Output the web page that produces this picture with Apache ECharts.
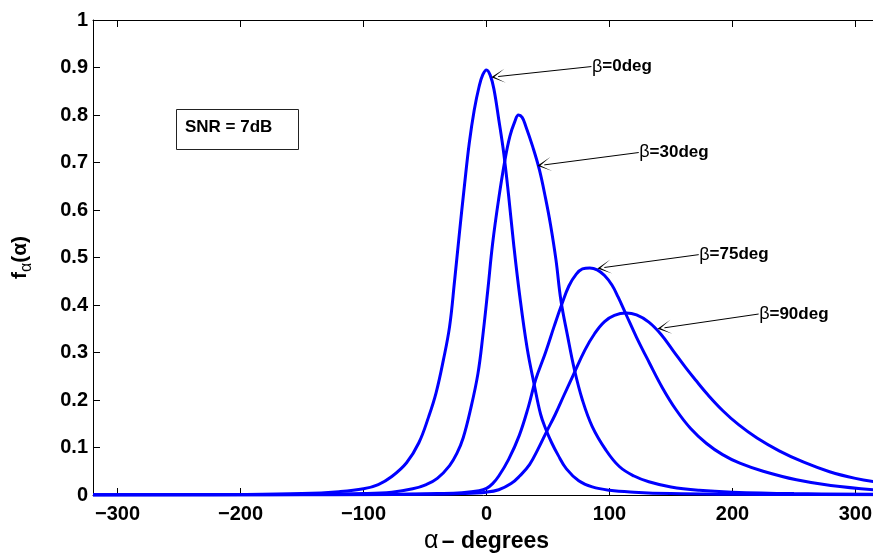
<!DOCTYPE html>
<html><head><meta charset="utf-8">
<script src="https://cdn.jsdelivr.net/npm/echarts@6/dist/echarts.min.js"></script>
<style>html,body{margin:0;padding:0;background:#fff}#c{width:873px;height:554px}</style>
</head><body><div id="c"></div>
<script>
// ---- data ----
const xTicks = [-300, -200, -100, 0, 100, 200, 300];
const yTicksMax = 1;

const alpha0 = [-320,-250,-200,-150,-120,-100,-88,-77,-65,-55,-47,-41,-35,-30,-26,-22,-18,-14,-10,-6,-3,0,3,6,10,14,18,22,27,33,39,44,48,53,58,65,75,86,100,120,150,200,250,320];
const f0     = [0.0003,0.0006,0.001,0.003,0.007,0.013,0.022,0.039,0.068,0.11,0.165,0.215,0.285,0.355,0.45,0.552,0.65,0.741,0.81,0.86,0.885,0.895,0.884,0.855,0.79,0.72,0.63,0.53,0.42,0.31,0.23,0.17,0.14,0.11,0.085,0.055,0.03,0.017,0.01,0.006,0.003,0.0015,0.001,0.0005];

const alpha30 = [-320,-200,-150,-100,-77,-60,-49,-40,-30,-24,-19,-13,-7,-3,1,5,10,15,19,23,26,29,32,37.5,43,48,52,56.5,60.5,66,71.5,78,86,97,108,120,132,150,173,200,250,320];
const f30     = [0.0002,0.0005,0.001,0.003,0.006,0.013,0.022,0.035,0.062,0.088,0.12,0.18,0.255,0.335,0.43,0.53,0.625,0.705,0.755,0.786,0.80,0.795,0.776,0.734,0.685,0.625,0.57,0.495,0.41,0.334,0.264,0.20,0.144,0.095,0.06,0.04,0.028,0.017,0.01,0.006,0.003,0.0015];

const alpha75 = [-320,-150,-100,-60,-40,-20,-6,0,5,10,18,26.6,34,40,48,55,61,67,73,78,84,90,96,102,107,113.5,122,132.5,143,154,166,178.7,192,206,225,252,280,320];
const f75     = [0.0001,0.0003,0.0008,0.002,0.003,0.005,0.009,0.014,0.024,0.04,0.075,0.125,0.185,0.243,0.30,0.355,0.40,0.44,0.465,0.476,0.478,0.474,0.462,0.442,0.417,0.38,0.332,0.278,0.226,0.18,0.14,0.109,0.085,0.067,0.05,0.032,0.02,0.01];

const alpha90 = [-320,-100,-50,-20,0,10,20,27,35,42,49,56,63,71,80,88,96,104,113.5,122,132,142,152,162,170,180,192,205,220,238,258,279,300,320];
const f90     = [0.0001,0.0005,0.0015,0.003,0.006,0.011,0.024,0.04,0.064,0.097,0.134,0.17,0.21,0.255,0.305,0.34,0.365,0.378,0.383,0.379,0.364,0.338,0.303,0.268,0.242,0.211,0.178,0.148,0.12,0.093,0.069,0.049,0.035,0.026];

const seriesNames = ['β=0deg', 'β=30deg', 'β=75deg', 'β=90deg'];
const labelText = ['=0deg', '=30deg', '=75deg', '=90deg'];
// annotation anchors in data space
const arrowTail = [[85.3, 0.902], [123.8, 0.721], [172.6, 0.506], [221.3, 0.381]];
const arrowTip  = [[9.5, 0.881], [47, 0.695], [95.8, 0.479], [144.7, 0.352]];

// ---- chart ----
const FONT = '"Liberation Sans", Arial, Helvetica, sans-serif';
const zip = (a, b) => a.map((v, i) => [v, b[i]]);
const curves = [zip(alpha0, f0), zip(alpha30, f30), zip(alpha75, f75), zip(alpha90, f90)];
const arrowPath = 'path://M50,0 L95,100 L50,22 L5,100 Z';

const series = curves.map((d, i) => ({
  name: seriesNames[i],
  type: 'line',
  data: d,
  smooth: 0.4,
  showSymbol: false,
  symbol: 'none',
  lineStyle: { color: '#0000ff', width: 3 },
  itemStyle: { color: '#0000ff' },
  z: 3,
  markLine: {
    silent: true,
    symbol: ['none', arrowPath],
    symbolSize: 14,
    label: { show: false },
    lineStyle: { color: '#000', width: 1, type: 'solid', opacity: 1 },
    itemStyle: { color: '#000' },
    emphasis: { disabled: true },
    animation: false,
    data: [[{ coord: arrowTail[i] }, { coord: arrowTip[i] }]]
  },
  markPoint: {
    silent: true,
    symbol: 'rect',
    symbolSize: 1,
    itemStyle: { color: 'rgba(0,0,0,0)' },
    animation: false,
    label: {
      show: true,
      position: 'right',
      distance: 0,
      formatter: '{g|β}{b|' + labelText[i] + '}',
      rich: {
        g: { fontFamily: FONT, fontSize: 18, fontWeight: 'normal', color: '#000' },
        b: { fontFamily: FONT, fontSize: 17, fontWeight: 'bold', color: '#000' }
      }
    },
    data: [{ coord: arrowTail[i] }]
  }
}));

const tickCommon = { show: true, inside: true, length: 7, lineStyle: { color: '#000', width: 1 } };
const lineCommon = { show: true, onZero: false, lineStyle: { color: '#000', width: 1 } };

const option = {
  animation: false,
  backgroundColor: '#fff',
  grid: { left: 93, top: 20, right: -7, bottom: 59, containLabel: false, outerBoundsMode: 'none' },
  xAxis: [{
    type: 'value', min: -320, max: 320, position: 'bottom',
    axisLine: lineCommon,
    axisTick: Object.assign({ customValues: xTicks }, tickCommon),
    axisLabel: {
      customValues: xTicks, margin: 9,
      fontFamily: FONT, fontSize: 20, fontWeight: 'bold', color: '#000',
      formatter: v => (v < 0 ? '\u2212' + (-v) : String(v))
    },
    splitLine: { show: false },
    name: '{a|α} {b|– degrees}',
    nameLocation: 'middle', nameGap: 31,
    nameTextStyle: {
      rich: {
        a: { fontFamily: FONT, fontSize: 25, fontWeight: 'normal', color: '#000' },
        b: { fontFamily: FONT, fontSize: 23, fontWeight: 'bold', color: '#000' }
      }
    }
  }, {
    type: 'value', min: -320, max: 320, position: 'top',
    axisLine: lineCommon,
    axisTick: Object.assign({ customValues: xTicks }, tickCommon),
    axisLabel: { show: false },
    splitLine: { show: false }
  }],
  yAxis: [{
    type: 'value', min: 0, max: yTicksMax, interval: 0.1, position: 'left',
    axisLine: lineCommon,
    axisTick: tickCommon,
    axisLabel: {
      margin: 5, fontFamily: FONT, fontSize: 20, fontWeight: 'bold', color: '#000',
      formatter: v => String(+v.toFixed(1))
    },
    splitLine: { show: false },
    name: '{f|f}{s|α}{f|(α)}',
    nameLocation: 'middle', nameGap: 58, nameRotate: 90,
    nameTextStyle: {
      rich: {
        f: { fontFamily: FONT, fontSize: 21, fontWeight: 'bold', color: '#000', lineHeight: 30 },
        s: { fontFamily: FONT, fontSize: 16, fontWeight: 'normal', color: '#000', lineHeight: 14, verticalAlign: 'bottom' }
      }
    }
  }, {
    type: 'value', min: 0, max: yTicksMax, interval: 0.1, position: 'right',
    axisLine: lineCommon,
    axisTick: tickCommon,
    axisLabel: { show: false },
    splitLine: { show: false }
  }],
  graphic: [
    { type: 'rect', left: 176, top: 109, z: 10,
      shape: { width: 122, height: 40 },
      style: { fill: '#fff', stroke: '#222', lineWidth: 1 } },
    { type: 'text', left: 185, top: 119, z: 11,
      style: { text: 'SNR = 7dB', font: 'bold 17px ' + FONT, fill: '#000' } }
  ],
  series: series
};

const chart = echarts.init(document.getElementById('c'), null, { renderer: 'canvas' });
chart.setOption(option);
</script></body></html>
